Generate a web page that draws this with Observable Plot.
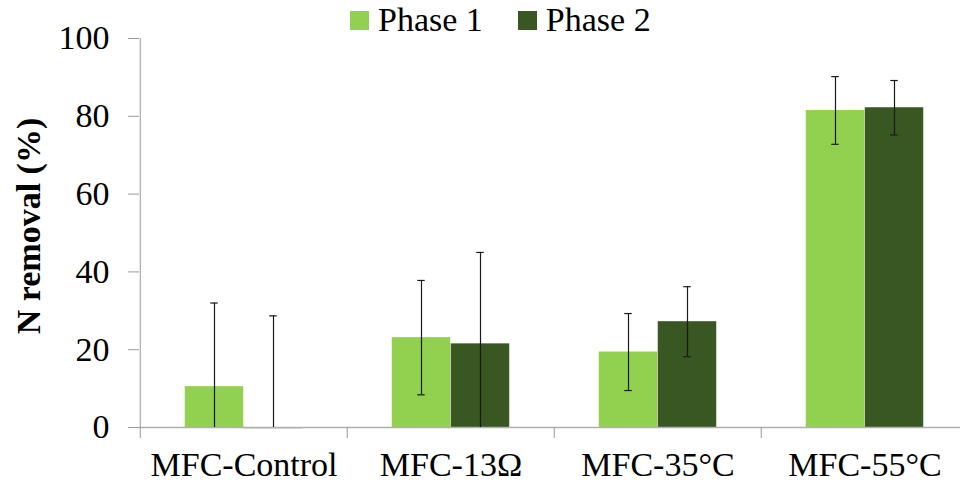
<!DOCTYPE html>
<html>
<head>
<meta charset="utf-8">
<script src="https://cdn.jsdelivr.net/npm/d3@7"></script>
<script src="https://cdn.jsdelivr.net/npm/@observablehq/plot@0.6"></script>
</head>
<body style="margin:0;background:#fff">
<div id="legend" style="position:absolute;top:0;left:350px;display:flex;align-items:center;height:40px;font-family:'Liberation Serif',serif;font-size:34px;color:#000"></div>
<div id="chart"></div>
<script>
const categories = ["MFC-Control", "MFC-13\u03A9", "MFC-35\u00B0C", "MFC-55\u00B0C"];
const phases = ["Phase 1", "Phase 2"];
const phase1 = [10.5, 23.1, 19.4, 81.5];
const phase2 = [-0.3, 21.5, 27.2, 82.2];
const phase1Err = [21.5, 14.7, 9.9, 8.7];
const phase2Err = [29.0, 23.5, 9.0, 7.0];
const yTicks = [0, 20, 40, 60, 80, 100];
const colors = ["#92d050", "#385723"];

const rows = [];
categories.forEach((c, i) => {
  rows.push({cat: c, phase: phases[0], value: phase1[i], err: phase1Err[i]});
  rows.push({cat: c, phase: phases[1], value: phase2[i], err: phase2Err[i]});
});

const W = 960, H = 486;
const mL = 139, mR = -9;
const band = (W - mL - mR) / categories.length;
const barW = 59;
const inset = (band - barW) / 2;
const off = {"Phase 1": -barW / 2, "Phase 2": barW / 2};
const font = "Liberation Serif";

const marks = [];
phases.forEach((p, k) => {
  const d = rows.filter(r => r.phase === p);
  marks.push(Plot.barY(d, {x: "cat", y: "value", fill: colors[k], dx: off[p], insetLeft: inset, insetRight: inset}));
});
marks.push(Plot.ruleY([0], {stroke: "#b0b0b0", strokeWidth: 1.5}));
phases.forEach((p) => {
  const d = rows.filter(r => r.phase === p);
  marks.push(Plot.ruleX(d, {x: "cat", y1: r => Math.max(0, r.value - r.err), y2: r => r.value + r.err, dx: off[p], stroke: "#1a1a1a", strokeWidth: 1.2}));
  marks.push(Plot.tickY(d, {x: "cat", y: r => r.value + r.err, dx: off[p], insetLeft: band / 2 - 4, insetRight: band / 2 - 4, stroke: "#1a1a1a", strokeWidth: 1.2}));
  marks.push(Plot.tickY(d.filter(r => r.value - r.err > 0), {x: "cat", y: r => r.value - r.err, dx: off[p], insetLeft: band / 2 - 4, insetRight: band / 2 - 4, stroke: "#1a1a1a", strokeWidth: 1.2}));
});
marks.push(Plot.ruleX([categories[0]], {x: d => d, y1: 0, y2: 100, dx: -band / 2, stroke: "#999"}));
marks.push(Plot.axisY({ticks: yTicks, tickSize: 11, tickPadding: 19, stroke: "#999", fontSize: 34, fill: "#000", label: null, fontFamily: font}));
marks.push(Plot.axisX({ticks: categories, tickFormat: () => "", tickSize: 11, dx: -band / 2, stroke: "#999", label: null}));
marks.push(Plot.axisX({ticks: categories, tickSize: 0, tickPadding: 24, fontSize: 34, fill: "#000", label: null, fontFamily: font}));
marks.push(Plot.text(["N removal (%)"], {frameAnchor: "left", textAnchor: "middle", rotate: -90, dx: -110, dy: -7, fontSize: 34, fontWeight: "bold", fill: "#000", fontFamily: font}));

const chart = Plot.plot({
  width: W, height: H,
  marginLeft: mL, marginRight: mR, marginTop: 38, marginBottom: 59,
  x: {domain: categories, padding: 0, axis: null},
  y: {domain: [0, 100], axis: null},
  marks
});
chart.setAttribute("font-family", "Liberation Serif, serif");
chart.querySelectorAll("g, text").forEach(el => {
  if (el.getAttribute("font-family") || el.tagName === "text") el.setAttribute("font-family", "Liberation Serif, serif");
});
chart.querySelectorAll("text").forEach(t => { t.style.fontFamily = "'Liberation Serif', serif"; });
document.getElementById("chart").appendChild(chart);

const legend = document.getElementById("legend");
phases.forEach((p, k) => {
  const it = document.createElement("div");
  it.style.cssText = "display:flex;align-items:center;margin-right:35px";
  const sw = document.createElement("div");
  sw.style.cssText = "width:19px;height:19px;margin-right:9px;background:" + colors[k];
  const t = document.createElement("span");
  t.textContent = p;
  it.appendChild(sw); it.appendChild(t);
  legend.appendChild(it);
});
</script>
</body>
</html>
